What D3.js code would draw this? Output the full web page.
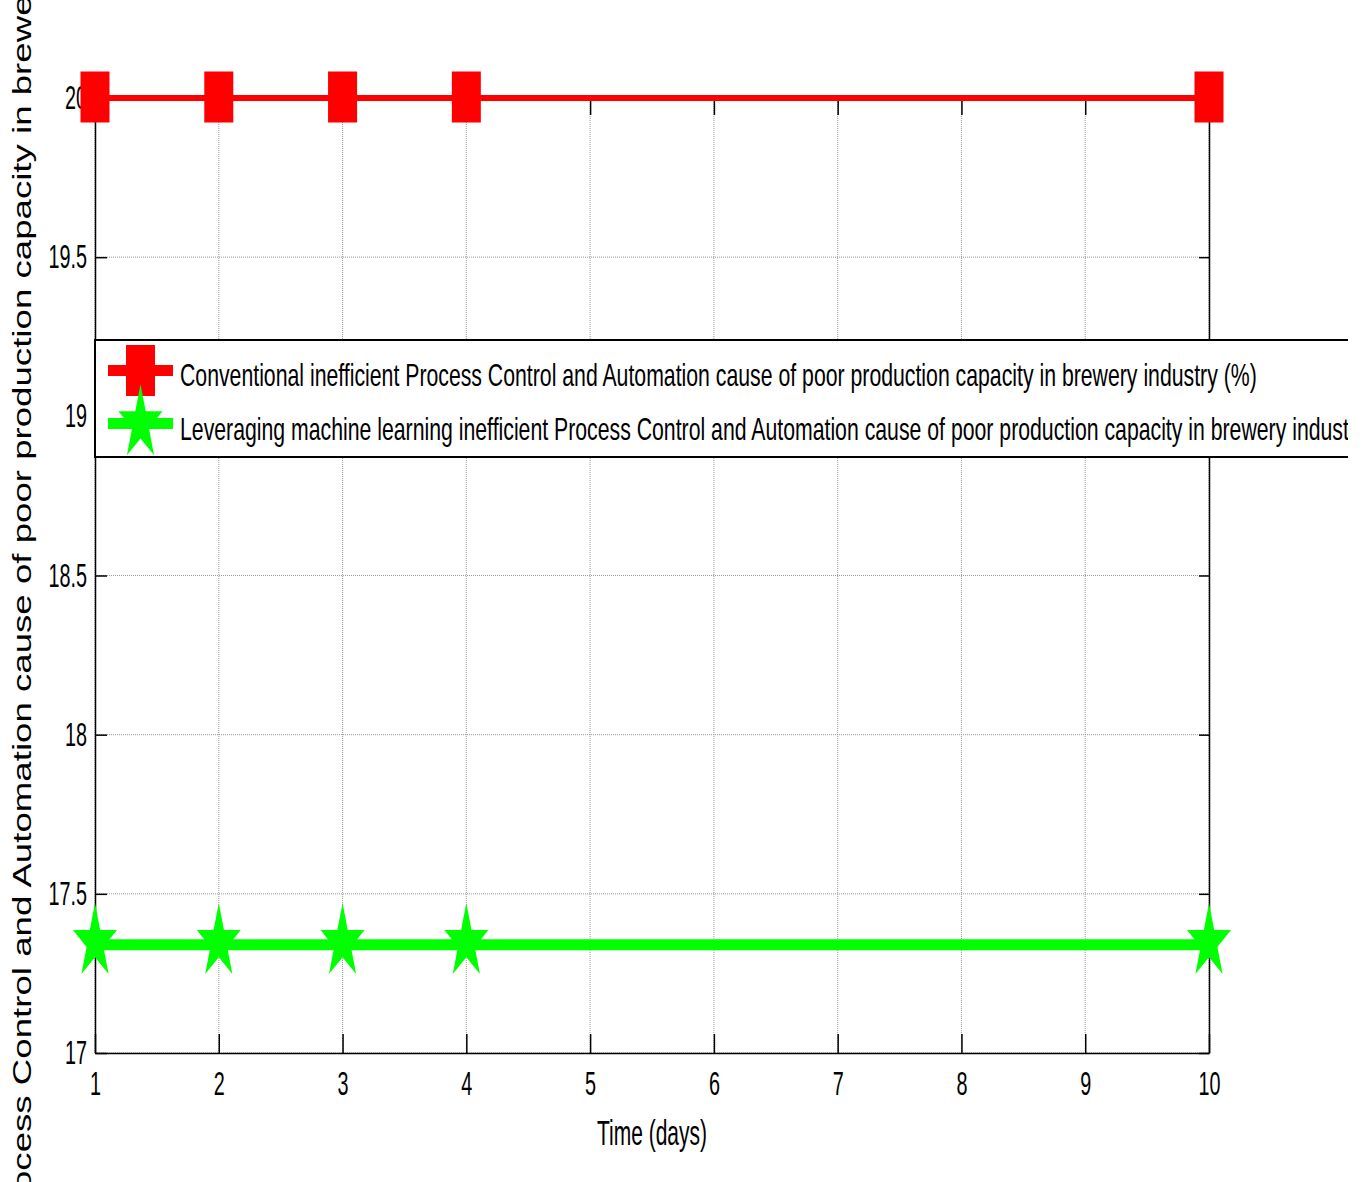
<!DOCTYPE html>
<html>
<head>
<meta charset="utf-8">
<script src="https://cdn.jsdelivr.net/npm/d3@7"></script>
<style>
  html, body { margin: 0; padding: 0; background: #fff; }
  svg { display: block; }
  text { font-family: "Liberation Sans", Arial, sans-serif; fill: #000; }
</style>
</head>
<body>
<svg id="chart" width="1367" height="1182"></svg>
<script>
// ---------- data ----------
const days = [1, 2, 3, 4, 10];
const conventional = [20, 20, 20, 20, 20];
const leveraging = [17.34, 17.34, 17.34, 17.34, 17.34];
const xTicks = [1, 2, 3, 4, 5, 6, 7, 8, 9, 10];
const yTicks = [17, 17.5, 18, 18.5, 19, 19.5, 20];
const seriesNames = [
  "Conventional inefficient Process Control and Automation cause of poor production capacity in brewery industry (%)",
  "Leveraging machine learning inefficient Process Control and Automation cause of poor production capacity in brewery industry (%)"
];
const xLabel = "Time (days)";
const yLabel = "Inefficient Process Control and Automation cause of poor production capacity in brewery industry (%)";

// ---------- layout ----------
const W = 1367, H = 1182;
const pL = 95, pR = 1209, pT = 98, pB = 1053;
const kx = 0.6; // horizontal squeeze of text

const svg = d3.select("#chart");
const x = d3.scaleLinear().domain([1, 10]).range([pL, pR]);
const y = d3.scaleLinear().domain([17, 20]).range([pB, pT]);

// grid
const grid = svg.append("g");
grid.selectAll("line.vx").data(xTicks).join("line")
  .attr("x1", d => x(d)).attr("x2", d => x(d))
  .attr("y1", pT).attr("y2", pB)
  .attr("stroke", "#999").attr("stroke-width", 1).attr("stroke-dasharray", "1,1");
grid.selectAll("line.hy").data(yTicks).join("line")
  .attr("x1", pL).attr("x2", pR)
  .attr("y1", d => y(d)).attr("y2", d => y(d))
  .attr("stroke", "#999").attr("stroke-width", 1).attr("stroke-dasharray", "1,1");

// axes
function styleAxis(g) {
  g.select(".domain").attr("stroke", "#000").attr("stroke-width", 1.5);
  g.selectAll(".tick line").attr("stroke", "#000").attr("stroke-width", 1.5);
}
const gx = svg.append("g").attr("transform", `translate(0,${pB})`)
  .call(d3.axisBottom(x).tickValues(xTicks).tickSizeInner(-19).tickSizeOuter(0).tickPadding(19).tickFormat(d3.format("d")));
styleAxis(gx);
gx.selectAll(".tick text").attr("font-size", 33).attr("font-family", "Liberation Sans, Arial, sans-serif")
  .attr("transform", `scale(${kx},1)`);

const gxt = svg.append("g").attr("transform", `translate(0,${pT})`)
  .call(d3.axisTop(x).tickValues(xTicks).tickSizeInner(-17).tickSizeOuter(0).tickFormat(""));
styleAxis(gxt);

const gy = svg.append("g").attr("transform", `translate(${pL},0)`)
  .call(d3.axisLeft(y).tickValues(yTicks).tickSizeInner(-12).tickSizeOuter(0).tickPadding(8).tickFormat(d => String(d)));
styleAxis(gy);
gy.selectAll(".tick text").attr("font-size", 33).attr("font-family", "Liberation Sans, Arial, sans-serif")
  .attr("x", -8 / kx).attr("transform", `scale(${kx},1)`);

const gyr = svg.append("g").attr("transform", `translate(${pR},0)`)
  .call(d3.axisRight(y).tickValues(yTicks).tickSizeInner(-10).tickSizeOuter(0).tickFormat(""));
styleAxis(gyr);

// x label
svg.append("text").attr("transform", `translate(${(pL + pR) / 2},1145) scale(${kx},1)`)
  .attr("text-anchor", "middle").attr("font-size", 35).text(xLabel);

// y label: fit so that known words land where they are in the reference
const yl = svg.append("text").attr("font-size", 25).text(yLabel);
const iC = yLabel.indexOf("Control");
const iCap = yLabel.indexOf("capacity");
const ylNode = yl.node();
const posC = ylNode.getStartPositionOfChar(iC).x;
const posCap = ylNode.getStartPositionOfChar(iCap).x;
const yC = 1085, yCap = 278;
const sY = (yC - yCap) / (posCap - posC);
const y0 = yC + sY * posC;
yl.attr("transform", `translate(31,${y0}) rotate(-90) scale(${sY},1)`);

// lines
const line = d3.line().x(d => x(d[0])).y(d => y(d[1]));
svg.append("path").datum(days.map((d, i) => [d, conventional[i]]))
  .attr("d", line).attr("fill", "none").attr("stroke", "#ff0000").attr("stroke-width", 6);
svg.append("path").datum(days.map((d, i) => [d, leveraging[i]]))
  .attr("d", line).attr("fill", "none").attr("stroke", "#00ff00").attr("stroke-width", 11);

// markers
const sq = d3.symbol(d3.symbolSquare, 29 * 29)();
const starR = 44 / (2 * Math.sin(2 * Math.PI / 5));
const star = d3.symbol(d3.symbolStar, starR * starR / 0.89081309152928522810)();
const sqSy = 51 / 29, starSy = 1.70;

svg.append("g").selectAll("path").data(days.map((d, i) => [d, conventional[i]])).join("path")
  .attr("d", sq).attr("fill", "#ff0000")
  .attr("transform", d => `translate(${x(d[0])},${y(d[1]) - 1}) scale(1,${sqSy})`);
svg.append("g").selectAll("path").data(days.map((d, i) => [d, leveraging[i]])).join("path")
  .attr("d", star).attr("fill", "#00ff00")
  .attr("transform", d => `translate(${x(d[0])},${y(d[1]) - 2.5}) scale(1,${starSy})`);

// legend
svg.append("clipPath").attr("id", "clipFig").append("rect")
  .attr("x", 0).attr("y", 0).attr("width", 1348).attr("height", H);
const lg = svg.append("g").attr("clip-path", "url(#clipFig)");
lg.append("rect").attr("x", pL).attr("y", 340).attr("width", 1400).attr("height", 117)
  .attr("fill", "#fff").attr("stroke", "#000").attr("stroke-width", 2);
const legendRows = [
  { name: seriesNames[0], color: "#ff0000", sym: sq, sy: sqSy, cy: 370.5, base: 386 },
  { name: seriesNames[1], color: "#00ff00", sym: star, sy: starSy, cy: 423.5, base: 440 }
];
const rows = lg.selectAll("g.row").data(legendRows).join("g");
rows.append("line").attr("x1", 108).attr("x2", 173).attr("y1", d => d.cy).attr("y2", d => d.cy)
  .attr("stroke", d => d.color).attr("stroke-width", 11);
rows.append("path").attr("d", d => d.sym).attr("fill", d => d.color)
  .attr("transform", d => `translate(140.5,${d.cy}) scale(1,${d.sy})`);
const lt = rows.append("text").attr("font-size", 32).text(d => d.name);
const natural = lt.nodes()[0].getComputedTextLength();
const kL = 1077 / natural;
lt.attr("transform", d => `translate(180,${d.base}) scale(${kL},1)`);
</script>
</body>
</html>
